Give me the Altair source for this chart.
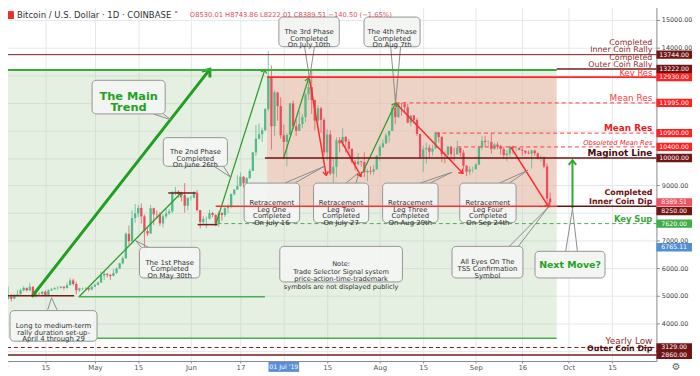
import math
import altair as alt
import pandas as pd

# ---------------- candle data (BTC/USD daily, Coinbase, Apr 1 - Sep 25 2019) ----------------
FIRST_DAY = "2019-04-01"
FIRST_OPEN = 4100

CLOSE_APR = [4140, 4890, 4970, 4900, 5040, 5060, 5200, 5290, 5200, 5330, 5020, 5080, 5070, 5150, 5030,
             5200, 5240, 5280, 5290, 5330, 5290, 5390, 5560, 5430, 5200, 5270, 5280, 5280, 5230, 5330]
HIGH_APR = [4150, 4950, 5350, 5070, 5060, 5220, 5260, 5350, 5300, 5470, 5350, 5120, 5120, 5180, 5200,
            5240, 5290, 5320, 5360, 5360, 5350, 5480, 5640, 5620, 5510, 5300, 5300, 5310, 5300, 5350]
LOW_APR = [4090, 4140, 4870, 4800, 4880, 4990, 5050, 5160, 5160, 5170, 4950, 4930, 5040, 5030, 4980,
           5020, 5180, 5230, 5220, 5270, 5210, 5260, 5380, 5380, 5050, 5150, 5200, 5220, 5160, 5200]

CLOSE_MAY = [5400, 5480, 5740, 5800, 5760, 5720, 5830, 5990, 6180, 6360, 7250, 6980, 7820, 7990, 8190, 7880,
             7350, 7260, 8180, 7960, 7950, 7630, 7880, 7990, 8060, 8740, 8780, 8720, 8660, 8270, 8550]
HIGH_MAY = [5440, 5520, 5880, 5900, 5820, 5790, 5980, 6030, 6200, 6430, 7300, 7550, 8100, 8330, 8290, 8350,
            7950, 7480, 8300, 8200, 8100, 8040, 7970, 8170, 8150, 8800, 8950, 8830, 8780, 9090, 8580]
LOW_MAY = [5320, 5390, 5480, 5570, 5670, 5580, 5710, 5800, 5990, 6140, 6350, 6850, 6900, 7650, 7850, 7620,
           6600, 7170, 7250, 7570, 7800, 7540, 7480, 7800, 7930, 8000, 8650, 8560, 8420, 8020, 8100]

CLOSE_JUN = [8560, 8740, 8110, 7680, 7790, 7800, 8000, 7930, 7630, 8000, 7930, 8180, 8230, 8690, 8850,
             8980, 9320, 9080, 9270, 9530, 10200, 10700, 10860, 11000, 11780, 12930, 11150, 12370, 11880, 10820]
HIGH_JUN = [8620, 8800, 8840, 8110, 7900, 7880, 8120, 8050, 7960, 8080, 8040, 8240, 8320, 8710, 8880,
            9380, 9470, 9330, 9300, 9600, 10220, 11190, 11250, 11100, 11800, 13870, 13350, 12450, 12400, 12200]
LOW_JUN = [8460, 8540, 8060, 7450, 7580, 7460, 7760, 7850, 7530, 7500, 7720, 7860, 8000, 8180, 8640,
           8850, 8970, 8920, 9040, 9240, 9530, 10070, 10650, 10580, 11000, 11700, 10300, 10800, 11350, 10700]

CLOSE_JUL = [10580, 10830, 11980, 11150, 10980, 11230, 11480, 12300, 12570, 12100, 11350, 11800, 11380, 10200,
             10850, 9430, 9680, 10640, 10530, 10760, 10590, 10330, 9860, 9770, 9880, 9850, 9480, 9530, 9500,
             9590, 10080]
HIGH_JUL = [11200, 10900, 12000, 12080, 11400, 11700, 11600, 12370, 12800, 13222, 12120, 11900, 11850, 11450,
            11050, 11000, 9990, 10750, 10750, 11080, 10800, 10680, 10350, 9930, 10180, 9900, 10200, 9600, 9700,
            9740, 10100]
LOW_JUL = [9950, 9700, 10830, 11050, 10800, 10980, 11080, 11300, 12100, 11600, 11000, 11100, 10900, 10100,
           9900, 9370, 9100, 9300, 10200, 10400, 10200, 10100, 9800, 9550, 9730, 9680, 9300, 9150, 9400,
           9400, 9580]

CLOSE_AUG = [10400, 10530, 10820, 10980, 11810, 11480, 11980, 11960, 11840, 11280, 11540, 11380, 10870, 10020,
             10310, 10370, 10230, 10340, 10920, 10760, 10130, 10110, 10410, 10140, 10130, 10370, 10190, 9720,
             9500, 9590, 9600]
HIGH_AUG = [10480, 10680, 10900, 11000, 11900, 12320, 12000, 12000, 12030, 11950, 11560, 11560, 11450, 10880,
            10450, 10550, 10480, 10480, 10950, 10940, 10790, 10240, 10440, 10430, 10370, 10620, 10390, 10290,
            9730, 9700, 9680]
LOW_AUG = [9900, 10360, 10500, 10560, 10980, 11220, 11450, 11520, 11650, 11260, 11150, 11240, 10800, 9960,
           9500, 9800, 9990, 10090, 10330, 10560, 9850, 9800, 10050, 9930, 9900, 10130, 10050, 9600,
           9340, 9380, 9460]

CLOSE_SEP = [9760, 10380, 10620, 10580, 10580, 10320, 10490, 10400, 10320, 10100, 10160, 10410, 10360, 10360,
             10300, 10260, 10190, 10160, 10270, 10170, 9980, 10030, 9690, 8530.01, 8389.51]
HIGH_SEP = [9800, 10440, 10790, 10800, 10650, 10900, 10550, 10580, 10480, 10400, 10290, 10450, 10450, 10420,
            10380, 10360, 10270, 10270, 10300, 10300, 10190, 10100, 10050, 9800, 8743.86]
LOW_SEP = [9570, 9740, 10300, 10400, 10450, 10150, 10300, 10310, 10120, 9960, 9870, 10050, 10150, 10230,
           10270, 10080, 10130, 10130, 9620, 10080, 9940, 9860, 9620, 8200, 8222.01]

UP_COLOR = "#53b987"
DOWN_COLOR = "#eb4d5c"

# ---------------- axis ticks ----------------
TICK_DATES = ["2019-04-01", "2019-04-15", "2019-05-01", "2019-05-15", "2019-06-01", "2019-06-17",
              "2019-07-01", "2019-07-15", "2019-08-01", "2019-08-15", "2019-09-01", "2019-09-16",
              "2019-10-01", "2019-10-15"]
Y_TICKS = list(range(3000, 16000, 1000))
HIDDEN_Y_LABELS = [3000, 8000, 10000, 11000, 12000, 13000]

# view window (days from Apr 1, price)
X_DOMAIN_DAYS = (-0.6, 211.3)
Y_DOMAIN = (2638.5, 15645.0)
PLOT_W, PLOT_H = 664, 363

# ---------------- shaded zones: (day0, day1, price_top, price_bottom, fill, opacity) ----------------
ZONES = [
    (-0.6, 179.1, 13190, 3462, "#b7d3b0", 0.36),
    (85.6, 179.1, 12930, 8250, "#f7b3a8", 0.48),
]

# ---------------- horizontal levels: (price, day0, day1, color, width) ----------------
SOLID_LEVELS = [
    (13744, 1.0, 211.3, "#7b1c1c", 1.0),
    (13190, -0.6, 179.1, "#3aaa3a", 2.0),
    (13222, 179.1, 211.3, "#7b1c1c", 1.5),
    (12930, 85.6, 211.3, "#ff2424", 2.0),
    (10000, 84.9, 211.3, "#6e1212", 1.5),
    (8250, 69.0, 179.1, "#ff3030", 1.5),
    (8250, 179.1, 211.3, "#6e1212", 1.5),
    (8730, 53.7, 62.6, "#7b1c1c", 1.5),
    (7583, 63.2, 69.6, "#7b1c1c", 1.5),
    (5004, 1.0, 23.3, "#7b1c1c", 1.5),
    (4968, 24.9, 84.9, "#4caf50", 1.5),
    (3462, 30.7, 179.1, "#4caf50", 1.5),
    (2860, -0.6, 211.3, "#7b1c1c", 1.5),
]
DASHED_LEVELS = [
    (11995, 127.1, 211.3, "#ff3b3b", 1.0),
    (10900, 140.0, 211.3, "#ff3b3b", 1.0),
    (10400, 147.0, 211.3, "#ff3b3b", 1.0),
    (7620, 69.6, 211.3, "#4caf50", 1.0),
    (3129, -0.6, 211.3, "#7b1c1c", 1.0),
]

# ---------------- arrows: (day0, price0, day1, price1, color, width, head size) ----------------
ARROWS = [
    (9.9, 5004, 67.1, 13209, "#1fa01f", 3.0, 130),
    (24.9, 4968, 57.8, 8730, "#2e9e2e", 1.3, 40),
    (69.0, 7583, 84.9, 13209, "#2e9e2e", 1.3, 40),
    (91.0, 10020, 99.0, 12886, "#2e9e2e", 1.3, 40),
    (116.5, 9482, 127.1, 11990, "#2e9e2e", 1.3, 40),
    (99.3, 12850, 104.7, 9375, "#ff2a2a", 1.5, 40),
    (109.5, 10629, 115.9, 9339, "#ff2a2a", 1.5, 40),
    (127.1, 11990, 148.8, 9446, "#ff2a2a", 1.5, 40),
    (164.4, 10378, 176.5, 8228, "#ff2a2a", 1.5, 40),
    (184.2, 8192, 184.2, 9912, "#2eaa2e", 2.0, 70),
]

# ---------------- callouts: text, day0, day1, price_top, price_bottom, tail, style ----------------
CALLOUTS = [
    ("The Main\nTrend", 29.1, 52.7, 12814, 11596, (48.9, 52.1, 11596, 54.6, 11381), "big"),
    ("The 2nd Phase\nCompleted\nOn June 26th", 52.1, 72.8, 10736, 9697, (68.5, 71.5, 9697, 73.8, 9303), "box"),
    ("The 3rd Phase\nCompleted\nOn July 10th", 89.4, 108.9, 15107, 14033, (97.7, 100.9, 14033, 99.3, 12886), "box"),
    ("The 4th Phase\nCompleted\nOn Aug 7th", 116.9, 135.0, 15107, 14033, (125.5, 128.7, 14033, 127.1, 11990), "box"),
    ("The 1st Phase\nCompleted\nOn May 30th", 44.4, 63.9, 6759, 5649, (45.0, 47.3, 6759, 43.1, 7010), "box"),
    ("Long to medium-term\nrally duration set-up-\nApril 4 through 29", 2.6, 30.7, 4466, 3356,
     (14.7, 17.9, 4466, 16.0, 4933), "box"),
    ("Retracement\nLeg One\nCompleted\nOn July 16", 78.2, 96.1, 9088, 7655, (91.3, 94.5, 9088, 104.1, 9697), "box"),
    ("Retracement\nLeg Two\nCompleted\nOn July 27", 100.6, 118.4, 9088, 7655, (111.1, 114.3, 9088, 115.3, 9482), "box"),
    ("Retracement\nLeg Three\nCompleted\nOn Aug 29th", 122.9, 140.8, 9088, 7655, (135.0, 138.2, 9088, 145.3, 9482), "box"),
    ("Retracement\nLeg Four\nCompleted\nOn Sep 24th", 147.8, 166.0, 9088, 7655, (160.6, 163.8, 9088, 169.8, 9554), "box"),
    ("Note:\nTrade Selector Signal system\nprice-action-time-trademark\nsymbols are not displayed publicly",
     89.7, 129.3, 6795, 5505, None, "note"),
    ("All Eyes On The\nTSS Confirmation\nSymbol", 145.3, 168.2, 6795, 5649, (163.8, 166.7, 6795, 176.5, 8228), "box"),
    ("Next Move?", 172.1, 194.7, 6616, 5649, (182.0, 185.8, 6616, 184.2, 8157), "next"),
]

# ---------------- right side level names: text, price, color, font size, style ----------------
LEVEL_NAMES = [
    ("Completed", 14176, "#8b3030", 8, "normal"),
    ("Inner Coin Rally", 13907, "#8b3030", 8, "normal"),
    ("Completed", 13638, "#8b3030", 8, "normal"),
    ("Outer Coin Rally", 13370, "#8b3030", 8, "normal"),
    ("Key Res", 13065, "#ff3030", 8.5, "normal"),
    ("Mean Res", 12169, "#ff3b3b", 9, "normal"),
    ("Mean Res", 11077, "#e81c1c", 9, "bold"),
    ("Obsoleted Mean Res", 10557, "#e02828", 6.8, "italic"),
    ("Maginot Line", 10163, "#4a0c0c", 9, "bold"),
    ("Completed", 8712, "#6e1212", 8, "bold"),
    ("Inner Coin Dip", 8407, "#6e1212", 8, "bold"),
    ("Key Sup", 7798, "#3aa53a", 8.5, "bold"),
    ("Yearly Low", 3356, "#8b3030", 9, "normal"),
    ("Outer Coin Dip", 3068, "#4a0c0c", 8, "bold"),
]
LEVEL_NAME_DAY = 210.0

# ---------------- right axis price tags: price, color, shifted ----------------
PRICE_TAGS = [
    (13744, "#6f1515", 0), (13222, "#6f1515", 0), (12930, "#ff2020", 0), (11995, "#ff2020", 0),
    (10900, "#ff2020", 0), (10400, "#ff2020", 0), (10000, "#6f1515", 0), (8389.51, "#f0505f", 0),
    (8250, "#6f1515", 1), (7620, "#3fae49", 0), (6765.11, "#4f8fd8", 0), (3129, "#6f1515", 0),
    (2860, "#6f1515", 0),
]

TITLE = "Bitcoin / U.S. Dollar · 1D · COINBASE ˅"
OHLC = "O8530.01  H8743.86  L8222.01  C8389.51  −140.50 (−1.65%)"
CROSSHAIR_DATE = "2019-07-01"
CROSSHAIR_LABEL = "01 Jul '19"

FONT = "DejaVu Sans"

# ---------------- helpers ----------------
T0 = pd.Timestamp(FIRST_DAY)


def iso(d):
    return (T0 + pd.Timedelta(days=float(d))).strftime("%Y-%m-%dT%H:%M:%SZ")


def ms_day(d):
    return int((T0 + pd.Timedelta(days=float(d))).value // 10**6)


def ms_date(s):
    return int(pd.Timestamp(s).value // 10**6)


XS = alt.Scale(type="utc", domain=[ms_day(X_DOMAIN_DAYS[0]), ms_day(X_DOMAIN_DAYS[1])])
YS = alt.Scale(domain=list(Y_DOMAIN), zero=False, nice=False)

CROSS_MS = ms_date(CROSSHAIR_DATE)
X_AXIS = alt.Axis(
    values=[ms_date(s) for s in TICK_DATES],
    labelExpr=(f"+datum.value == {CROSS_MS} ? '' : "
               "(utcdate(datum.value) == 1 ? utcFormat(datum.value, '%b') : utcFormat(datum.value, '%d'))"),
    grid=True, gridColor="#e4e8ee", domainColor="#8a8a8a", tickColor="#8a8a8a", tickSize=2,
    labelPadding=1, labelFontSize=7, labelColor="#555555", labelFont=FONT, labelFlush=False,
    labelOverlap=False, title=None,
)
Y_AXIS = alt.Axis(
    orient="right", values=Y_TICKS,
    labelExpr="indexof(" + str(HIDDEN_Y_LABELS) + ", datum.value) >= 0 ? '' : format(datum.value, '.2f')",
    grid=True, gridColor="#e4e8ee", domainColor="#8a8a8a", tickColor="#8a8a8a", tickSize=3,
    labelPadding=2, labelFontSize=6.5, labelColor="#444444", labelFont=FONT, title=None,
)


def X(f):
    return alt.X(f"{f}:T", scale=XS, axis=X_AXIS, title=None)


def Y(f):
    return alt.Y(f"{f}:Q", scale=YS, axis=Y_AXIS, title=None)


# ---------------- frames ----------------
closes = CLOSE_APR + CLOSE_MAY + CLOSE_JUN + CLOSE_JUL + CLOSE_AUG + CLOSE_SEP
highs = HIGH_APR + HIGH_MAY + HIGH_JUN + HIGH_JUL + HIGH_AUG + HIGH_SEP
lows = LOW_APR + LOW_MAY + LOW_JUN + LOW_JUL + LOW_AUG + LOW_SEP
opens = [FIRST_OPEN] + closes[:-1]
candles = pd.DataFrame({
    "date": [iso(i) for i in range(len(closes))],
    "open": opens, "high": highs, "low": lows, "close": closes,
})
candles["col"] = [UP_COLOR if c >= o else DOWN_COLOR for o, c in zip(opens, closes)]

zones = pd.DataFrame([{"x0": iso(a), "x1": iso(b), "y0": t, "y1": btm, "f": f, "op": op}
                      for a, b, t, btm, f, op in ZONES])


def level_df(rows):
    return pd.DataFrame([{"p": p, "x0": iso(a), "x1": iso(b), "c": c, "w": w} for p, a, b, c, w in rows])


solid = level_df(SOLID_LEVELS)
dashed = level_df(DASHED_LEVELS)

px_day = PLOT_W / (X_DOMAIN_DAYS[1] - X_DOMAIN_DAYS[0])
px_usd = PLOT_H / (Y_DOMAIN[1] - Y_DOMAIN[0])
arrow_rows = []
for a, p0, b, p1, c, w, hs in ARROWS:
    dx = (b - a) * px_day
    dy = -(p1 - p0) * px_usd
    ang = math.degrees(math.atan2(dx, -dy)) % 360
    arrow_rows.append({"x0": iso(a), "y0": p0, "x1": iso(b), "y1": p1, "c": c, "w": w, "hs": hs, "ang": ang})
arrows = pd.DataFrame(arrow_rows)

box_rows, tail_rows = [], []
for i, (txt, a, b, pt, pb, tail, style) in enumerate(CALLOUTS):
    box_rows.append({"x0": iso(a), "x1": iso(b), "y0": pt, "y1": pb,
                     "xc": iso((a + b) / 2), "yc": (pt + pb) / 2, "t": txt, "s": style})
    if tail:
        b1, b2, bp, td, tp = tail
        for o, (dd, pp) in enumerate([(b1, bp), (td, tp), (b2, bp)]):
            tail_rows.append({"id": i, "o": o, "x": iso(dd), "y": pp})
boxes = pd.DataFrame(box_rows)
tails = pd.DataFrame(tail_rows)

names = pd.DataFrame([{"t": t, "p": p, "c": c, "fs": fs, "st": st, "x": iso(LEVEL_NAME_DAY)}
                      for t, p, c, fs, st in LEVEL_NAMES])
tags = pd.DataFrame([{"p": p, "c": c, "sh": sh, "lbl": f"{p:.2f}"} for p, c, sh in PRICE_TAGS])

# ---------------- layers ----------------
zone_layer = alt.Chart(zones).mark_rect().encode(
    x=X("x0"), x2="x1", y=Y("y0"), y2="y1",
    fill=alt.Fill("f:N", scale=None), opacity=alt.Opacity("op:Q", scale=None))

wicks = alt.Chart(candles).mark_rule(strokeWidth=1, opacity=0.75).encode(
    x=X("date"), y=Y("low"), y2="high", color=alt.Color("col:N", scale=None))
bodies = alt.Chart(candles).mark_rule(strokeWidth=2.3).encode(
    x=X("date"), y=Y("open"), y2="close", color=alt.Color("col:N", scale=None))

shafts = alt.Chart(arrows).mark_rule(strokeCap="round").encode(
    x=X("x0"), x2="x1", y=Y("y0"), y2="y1",
    color=alt.Color("c:N", scale=None), strokeWidth=alt.StrokeWidth("w:Q", scale=None))
heads = alt.Chart(arrows).mark_point(shape="M-0.9,1.1L0,0L0.9,1.1", filled=False, opacity=1).encode(
    x=X("x1"), y=Y("y1"), angle=alt.Angle("ang:Q", scale=None),
    color=alt.Color("c:N", scale=None), size=alt.Size("hs:Q", scale=None),
    strokeWidth=alt.StrokeWidth("w:Q", scale=None))

tail_layer = alt.Chart(tails).mark_line(color="#8c8c8c", strokeWidth=1).encode(
    x=X("x"), y=Y("y"), detail="id:N", order="o:Q")
box_layer = alt.Chart(boxes).mark_rect(cornerRadius=4, fill="#f2f4f2", fillOpacity=0.95,
                                       stroke="#959595", strokeWidth=1).encode(
    x=X("x0"), x2="x1", y=Y("y0"), y2="y1")

solid_layer = alt.Chart(solid).mark_rule().encode(
    x=X("x0"), x2="x1", y=Y("p"), color=alt.Color("c:N", scale=None),
    strokeWidth=alt.StrokeWidth("w:Q", scale=None))
dashed_layer = alt.Chart(dashed).mark_rule(strokeDash=[4, 3]).encode(
    x=X("x0"), x2="x1", y=Y("p"), color=alt.Color("c:N", scale=None),
    strokeWidth=alt.StrokeWidth("w:Q", scale=None))


def box_text(style, **kw):
    return alt.Chart(boxes).transform_filter(alt.datum.s == style).mark_text(
        font=FONT, lineBreak="\n", align="center", baseline="middle", **kw).encode(
        x=X("xc"), y=Y("yc"), text="t:N")


txt_box = box_text("box", fontSize=7, lineHeight=6.8, color="#333333")
txt_note = box_text("note", fontSize=6.7, lineHeight=7.6, color="#333333")
txt_big = box_text("big", fontSize=11.5, lineHeight=11.5, color="#22a322", fontWeight="bold")
txt_next = box_text("next", fontSize=9.5, color="#22a322", fontWeight="bold")


def name_text(st, **kw):
    return alt.Chart(names).transform_filter(alt.datum.st == st).mark_text(
        font=FONT, align="right", baseline="middle", **kw).encode(
        x=X("x"), y=Y("p"), text="t:N", color=alt.Color("c:N", scale=None),
        size=alt.Size("fs:Q", scale=None))


names_normal = name_text("normal")
names_bold = name_text("bold", fontWeight="bold")
names_italic = name_text("italic", fontStyle="italic")

tag_boxes = alt.Chart(tags).transform_filter(alt.datum.sh == 0).mark_tick(
    orient="horizontal", size=36, thickness=8.5, opacity=1).encode(
    x=alt.value(682), y=Y("p"), color=alt.Color("c:N", scale=None))
tag_boxes_s = alt.Chart(tags).transform_filter(alt.datum.sh == 1).mark_tick(
    orient="horizontal", size=36, thickness=8.5, opacity=1, yOffset=5).encode(
    x=alt.value(682), y=Y("p"), color=alt.Color("c:N", scale=None))
tag_text = alt.Chart(tags).transform_filter(alt.datum.sh == 0).mark_text(
    font=FONT, fontSize=6.3, color="white", align="center", baseline="middle").encode(
    x=alt.value(682), y=Y("p"), text="lbl:N")
tag_text_s = alt.Chart(tags).transform_filter(alt.datum.sh == 1).mark_text(
    font=FONT, fontSize=6.3, color="white", align="center", baseline="middle", dy=5).encode(
    x=alt.value(682), y=Y("p"), text="lbl:N")

hdr = pd.DataFrame({"title": [TITLE], "ohlc": [OHLC],
                    "cross": [iso((pd.Timestamp(CROSSHAIR_DATE) - T0).days)], "cl": [CROSSHAIR_LABEL]})
icon = alt.Chart(hdr).mark_tick(orient="horizontal", size=6, thickness=8, color="#e8302f", opacity=1).encode(
    x=alt.value(11), y=alt.value(13))
title_t = alt.Chart(hdr).mark_text(font=FONT, fontSize=8.6, color="#333333", align="left",
                                   baseline="middle").encode(x=alt.value(17), y=alt.value(13), text="title:N")
ohlc_t = alt.Chart(hdr).mark_text(font=FONT, fontSize=6.8, color="#e2505a", align="left",
                                  baseline="middle").encode(x=alt.value(192), y=alt.value(13), text="ohlc:N")
cross_box = alt.Chart(hdr).mark_tick(orient="horizontal", size=31, thickness=10, color="#5b8fd6",
                                     opacity=1).encode(x=X("cross"), y=alt.value(369))
cross_t = alt.Chart(hdr).mark_text(font=FONT, fontSize=6.3, color="white", align="center",
                                   baseline="middle").encode(x=X("cross"), y=alt.value(369), text="cl:N")
gear = alt.Chart(hdr).mark_text(font=FONT, fontSize=10, color="#666666", align="center",
                                baseline="middle", text="⚙").encode(x=alt.value(684), y=alt.value(369))

chart = alt.layer(
    zone_layer, wicks, bodies, shafts, heads, tail_layer, box_layer, solid_layer, dashed_layer,
    txt_box, txt_note, txt_big, txt_next, names_normal, names_bold, names_italic,
    tag_boxes, tag_boxes_s, tag_text, tag_text_s, icon, title_t, ohlc_t, cross_box, cross_t, gear,
).properties(
    width=PLOT_W, height=PLOT_H,
    padding={"left": -8, "top": -8, "right": 36, "bottom": 13},
    autosize=alt.AutoSizeParams(type="none"),
    background="white",
).configure_view(strokeWidth=0)

chart.save("out.html", embed_options={"renderer": "svg", "actions": False})
